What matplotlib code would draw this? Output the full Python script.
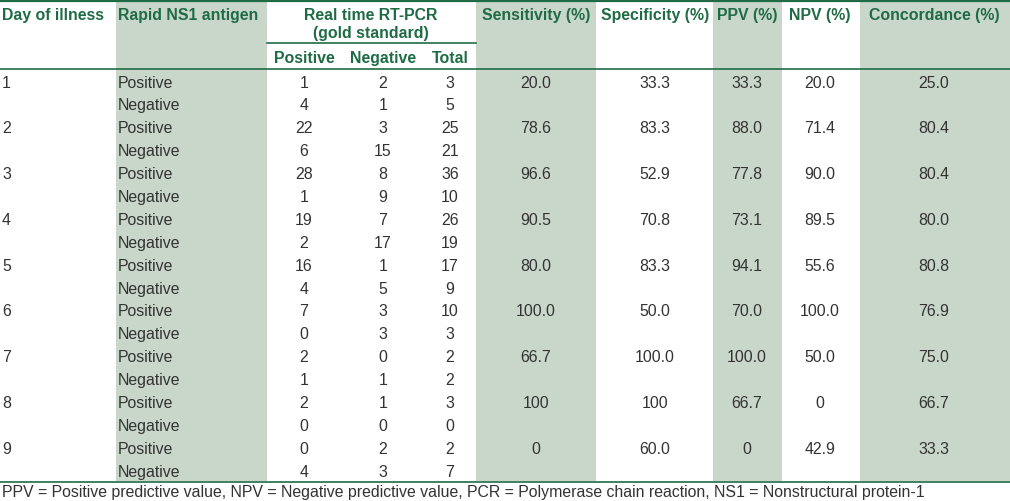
import matplotlib.pyplot as plt
from matplotlib.patches import Rectangle

# table data
days = ["1", "2", "3", "4", "5", "6", "7", "8", "9"]
pos_row = [("1", "2", "3"), ("22", "3", "25"), ("28", "8", "36"), ("19", "7", "26"),
           ("16", "1", "17"), ("7", "3", "10"), ("2", "0", "2"), ("2", "1", "3"), ("0", "2", "2")]
neg_row = [("4", "1", "5"), ("6", "15", "21"), ("1", "9", "10"), ("2", "17", "19"),
           ("4", "5", "9"), ("0", "3", "3"), ("1", "1", "2"), ("0", "0", "0"), ("4", "3", "7")]
sensitivity = ["20.0", "78.6", "96.6", "90.5", "80.0", "100.0", "66.7", "100", "0"]
specificity = ["33.3", "83.3", "52.9", "70.8", "83.3", "50.0", "100.0", "100", "60.0"]
ppv = ["33.3", "88.0", "77.8", "73.1", "94.1", "70.0", "100.0", "66.7", "0"]
npv = ["20.0", "71.4", "90.0", "89.5", "55.6", "100.0", "50.0", "0", "42.9"]
concordance = ["25.0", "80.4", "80.4", "80.0", "80.8", "76.9", "75.0", "66.7", "33.3"]
footnote = ("PPV = Positive predictive value, NPV = Negative predictive value, "
            "PCR = Polymerase chain reaction, NS1 = Nonstructural protein-1")

W, H = 1010, 502
green = "#1f6b45"
shade = "#c9d7cb"
body = "#333333"
fs = 11.4
off = 5.0  # roughly half cap height in px, to place baseline under a centre line
plt.rcParams['font.family'] = ['Liberation Sans', 'DejaVu Sans']

fig = plt.figure(figsize=(W / 100, H / 100), dpi=100)
ax = fig.add_axes([0, 0, 1, 1])
ax.set_xlim(0, W)
ax.set_ylim(H, 0)
ax.axis('off')

# shaded columns
for x0, x1 in [(116, 267), (476, 596), (713, 782), (860, 1010)]:
    ax.add_patch(Rectangle((x0, 2), x1 - x0, 480, color=shade, lw=0, zorder=0))

# rules
ax.plot([0, W], [1.5, 1.5], color=green, lw=1.6)
ax.plot([267, 476], [44, 44], color=green, lw=1.2)
ax.plot([0, W], [69.5, 69.5], color=green, lw=1.2)
ax.plot([0, W], [482.5, 482.5], color=green, lw=1.2)


def put(x, y, s, ha='center', bold=False):
    ax.text(x, y + off, s, ha=ha, va='baseline', fontsize=fs,
            color=green if bold else body, fontweight='bold' if bold else 'normal')


# header
put(2, 15, "Day of illness", 'left', True)
put(118, 15, "Rapid NS1 antigen", 'left', True)
put(371, 15, "Real time RT-PCR", bold=True)
put(371, 33, "(gold standard)", bold=True)
put(304, 58, "Positive", bold=True)
put(383, 58, "Negative", bold=True)
put(450, 58, "Total", bold=True)
put(536, 15, "Sensitivity (%)", bold=True)
put(655, 15, "Specificity (%)", bold=True)
put(747, 15, "PPV (%)", bold=True)
put(820, 15, "NPV (%)", bold=True)
put(934, 15, "Concordance (%)", bold=True)

# body
count_x = [304, 383, 450]
for i, d in enumerate(days):
    y1 = 82.5 + 45.8 * i
    y2 = y1 + 22.9
    put(2, y1, d, 'left')
    put(118, y1, "Positive", 'left')
    put(118, y2, "Negative", 'left')
    for x, v in zip(count_x, pos_row[i]):
        put(x, y1, v)
    for x, v in zip(count_x, neg_row[i]):
        put(x, y2, v)
    for x, col in zip([536, 655, 747, 820, 934],
                      [sensitivity, specificity, ppv, npv, concordance]):
        put(x, y1, col[i])

put(2, 492, footnote, 'left')

fig.savefig('out.png', dpi=100)
